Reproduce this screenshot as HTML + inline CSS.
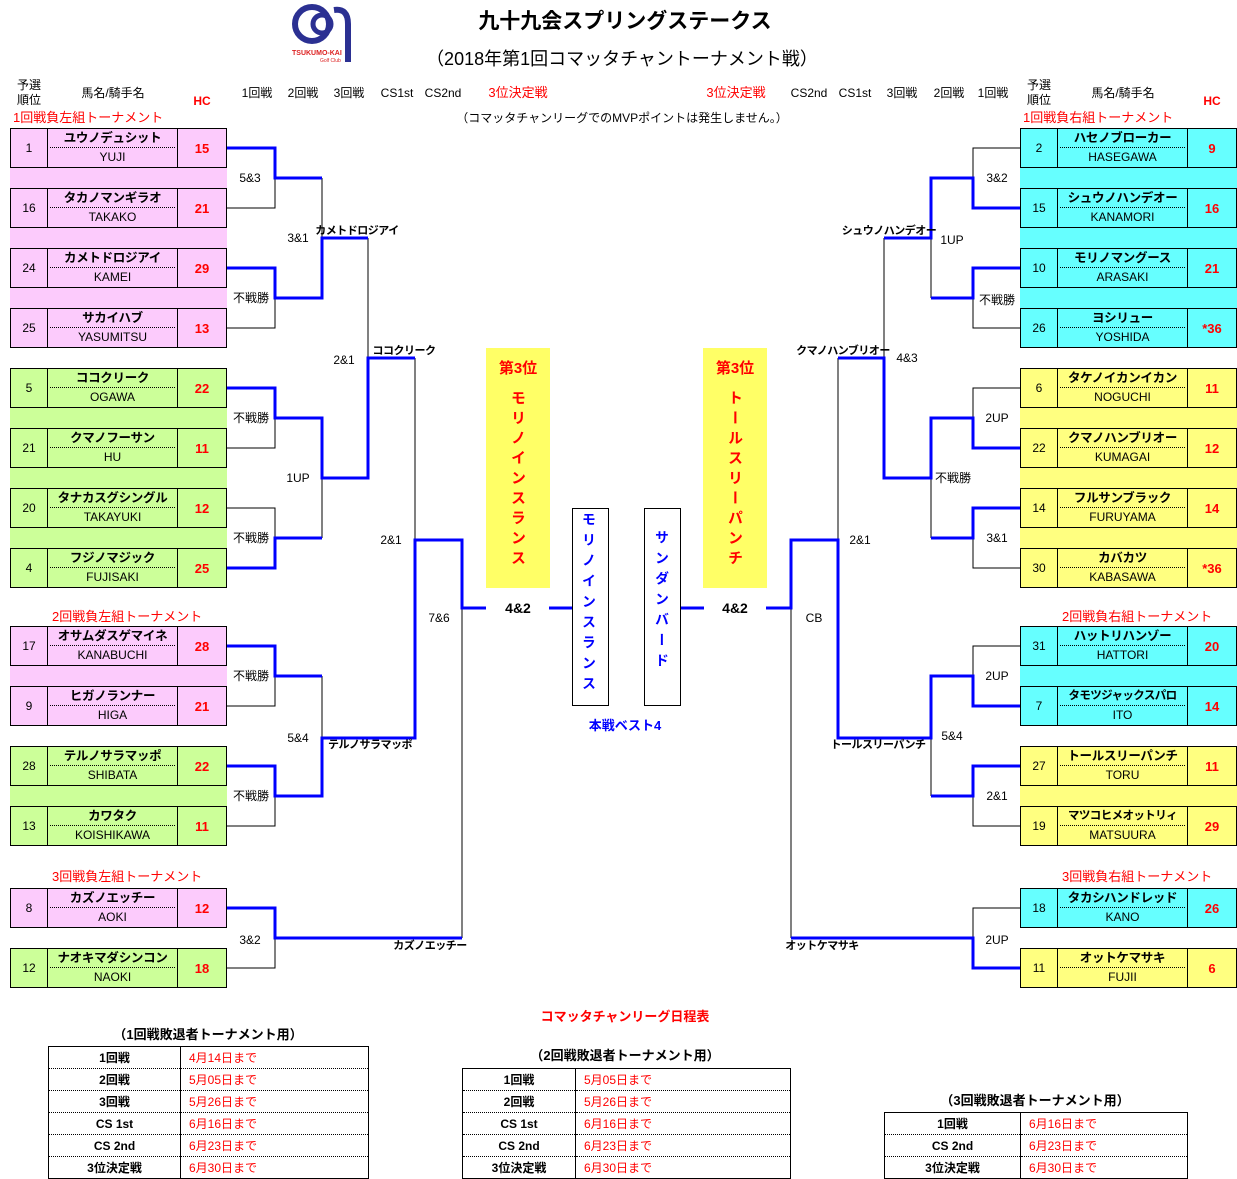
<!DOCTYPE html>
<html><head><meta charset="utf-8">
<style>
*{margin:0;padding:0;box-sizing:border-box}
body{width:1237px;height:1177px;position:relative;background:#fff;font-family:"Liberation Sans","Noto Sans CJK JP",sans-serif;color:#000;overflow:hidden}
.c{position:absolute;transform:translate(-50%,-50%);white-space:nowrap;font-size:12px;line-height:14px}
.l{position:absolute;white-space:nowrap;font-size:12px;line-height:14px;transform:translateY(-50%)}
.r{color:#f00}
.bd{font-weight:bold}
.nm{font-weight:bold;font-size:11px;letter-spacing:-0.5px}
.strip{position:absolute;width:217px}
.b{position:absolute;width:217px;height:40px;border:1px solid #000;display:flex}
.b i{font-style:normal;width:37px;border-right:1px solid #000;display:flex;align-items:center;justify-content:center;font-size:12px}
.b b{width:130px;border-right:1px solid #000;display:flex;flex-direction:column;font-weight:normal;overflow:hidden}
.b b span{height:19px;line-height:19px;text-align:center;font-weight:bold;font-size:12.5px;letter-spacing:-0.3px;margin:0 2px;border-bottom:1px dotted #000;white-space:nowrap;overflow:hidden}
.b b em{font-style:normal;height:19px;line-height:19px;text-align:center;font-size:12px;white-space:nowrap}
.b u{text-decoration:none;flex:1;display:flex;align-items:center;justify-content:center;color:#f00;font-weight:bold;font-size:13px}
.P{background:#fccbfc}.G{background:#ccff99}.C{background:#66ffff}.Y{background:#ffff80}
.vt{position:absolute;writing-mode:vertical-rl;font-weight:bold;font-size:15px;letter-spacing:5px;line-height:15px}
table{position:absolute;border-collapse:collapse;border:1px solid #000}
td{height:22px;font-size:12px;border-bottom:1px dotted #000;line-height:20px}
td:first-child{text-align:center;font-weight:bold;border-right:1px solid #000}
td:last-child{color:#f00;padding-left:8px}
</style></head><body>

<svg style="position:absolute;left:290px;top:0" width="66" height="66" viewBox="0 0 66 66">
<circle cx="22" cy="24" r="17" fill="none" stroke="#2b3092" stroke-width="6"/>
<circle cx="32" cy="24" r="9" fill="none" stroke="#2b3092" stroke-width="5"/>
<path d="M44 10 Q58 8 58 24 L58 62" fill="none" stroke="#2b3092" stroke-width="6"/>
<text x="2" y="55" font-size="7" fill="#d22" font-family="Liberation Sans" font-weight="bold">TSUKUMO-KAI</text>
<text x="30" y="62" font-size="5" fill="#d22" font-family="Liberation Sans">Golf Club</text>
</svg>

<div class="c bd" style="left:625px;top:22px;font-size:21px;line-height:24px">九十九会スプリングステークス</div>
<div class="c" style="left:622px;top:59px;font-size:18px;line-height:22px">（2018年第1回コマッタチャントーナメント戦）</div>

<div class="c" style="left:29px;top:93px;line-height:15px">予選<br>順位</div>
<div class="c" style="left:113px;top:93px">馬名/騎手名</div>
<div class="c r bd" style="left:202px;top:101px">HC</div>
<div class="c" style="left:257px;top:93px">1回戦</div>
<div class="c" style="left:303px;top:93px">2回戦</div>
<div class="c" style="left:349px;top:93px">3回戦</div>
<div class="c" style="left:397px;top:93px">CS1st</div>
<div class="c" style="left:443px;top:93px">CS2nd</div>
<div class="c r" style="left:518px;top:93px;font-size:13px">3位決定戦</div>
<div class="c r" style="left:736px;top:93px;font-size:13px">3位決定戦</div>
<div class="c" style="left:809px;top:93px">CS2nd</div>
<div class="c" style="left:855px;top:93px">CS1st</div>
<div class="c" style="left:902px;top:93px">3回戦</div>
<div class="c" style="left:949px;top:93px">2回戦</div>
<div class="c" style="left:993px;top:93px">1回戦</div>
<div class="c" style="left:1039px;top:93px;line-height:15px">予選<br>順位</div>
<div class="c" style="left:1123px;top:93px">馬名/騎手名</div>
<div class="c r bd" style="left:1212px;top:101px">HC</div>

<div class="l r" style="left:13px;top:118px;font-size:13px">1回戦負左組トーナメント</div>
<div class="c" style="left:622px;top:118px">（コマッタチャンリーグでのMVPポイントは発生しません。）</div>
<div class="l r" style="left:1023px;top:118px;font-size:13px">1回戦負右組トーナメント</div>
<div class="l r" style="left:52px;top:617px;font-size:13px">2回戦負左組トーナメント</div>
<div class="l r" style="left:1062px;top:617px;font-size:13px">2回戦負右組トーナメント</div>
<div class="l r" style="left:52px;top:877px;font-size:13px">3回戦負左組トーナメント</div>
<div class="l r" style="left:1062px;top:877px;font-size:13px">3回戦負右組トーナメント</div>

<div class="strip P" style="left:10px;top:128px;height:220px"></div>
<div class="strip G" style="left:10px;top:368px;height:220px"></div>
<div class="strip P" style="left:10px;top:626px;height:100px"></div>
<div class="strip G" style="left:10px;top:746px;height:100px"></div>
<div class="strip C" style="left:1020px;top:128px;height:220px"></div>
<div class="strip Y" style="left:1020px;top:368px;height:220px"></div>
<div class="strip C" style="left:1020px;top:626px;height:100px"></div>
<div class="strip Y" style="left:1020px;top:746px;height:100px"></div>

<div class="b P" style="left:10px;top:128px"><i>1</i><b><span>ユウノデュシット</span><em>YUJI</em></b><u>15</u></div>
<div class="b P" style="left:10px;top:188px"><i>16</i><b><span>タカノマンギラオ</span><em>TAKAKO</em></b><u>21</u></div>
<div class="b P" style="left:10px;top:248px"><i>24</i><b><span>カメトドロジアイ</span><em>KAMEI</em></b><u>29</u></div>
<div class="b P" style="left:10px;top:308px"><i>25</i><b><span>サカイハブ</span><em>YASUMITSU</em></b><u>13</u></div>
<div class="b G" style="left:10px;top:368px"><i>5</i><b><span>ココクリーク</span><em>OGAWA</em></b><u>22</u></div>
<div class="b G" style="left:10px;top:428px"><i>21</i><b><span>クマノフーサン</span><em>HU</em></b><u>11</u></div>
<div class="b G" style="left:10px;top:488px"><i>20</i><b><span>タナカスグシングル</span><em>TAKAYUKI</em></b><u>12</u></div>
<div class="b G" style="left:10px;top:548px"><i>4</i><b><span>フジノマジック</span><em>FUJISAKI</em></b><u>25</u></div>
<div class="b P" style="left:10px;top:626px"><i>17</i><b><span>オサムダスゲマイネ</span><em>KANABUCHI</em></b><u>28</u></div>
<div class="b P" style="left:10px;top:686px"><i>9</i><b><span>ヒガノランナー</span><em>HIGA</em></b><u>21</u></div>
<div class="b G" style="left:10px;top:746px"><i>28</i><b><span>テルノサラマッポ</span><em>SHIBATA</em></b><u>22</u></div>
<div class="b G" style="left:10px;top:806px"><i>13</i><b><span>カワタク</span><em>KOISHIKAWA</em></b><u>11</u></div>
<div class="b P" style="left:10px;top:888px"><i>8</i><b><span>カズノエッチー</span><em>AOKI</em></b><u>12</u></div>
<div class="b G" style="left:10px;top:948px"><i>12</i><b><span>ナオキマダシンコン</span><em>NAOKI</em></b><u>18</u></div>

<div class="b C" style="left:1020px;top:128px"><i>2</i><b><span>ハセノブローカー</span><em>HASEGAWA</em></b><u>9</u></div>
<div class="b C" style="left:1020px;top:188px"><i>15</i><b><span>シュウノハンデオー</span><em>KANAMORI</em></b><u>16</u></div>
<div class="b C" style="left:1020px;top:248px"><i>10</i><b><span>モリノマングース</span><em>ARASAKI</em></b><u>21</u></div>
<div class="b C" style="left:1020px;top:308px"><i>26</i><b><span>ヨシリュー</span><em>YOSHIDA</em></b><u>*36</u></div>
<div class="b Y" style="left:1020px;top:368px"><i>6</i><b><span>タケノイカンイカン</span><em>NOGUCHI</em></b><u>11</u></div>
<div class="b Y" style="left:1020px;top:428px"><i>22</i><b><span>クマノハンブリオー</span><em>KUMAGAI</em></b><u>12</u></div>
<div class="b Y" style="left:1020px;top:488px"><i>14</i><b><span>フルサンブラック</span><em>FURUYAMA</em></b><u>14</u></div>
<div class="b Y" style="left:1020px;top:548px"><i>30</i><b><span>カバカツ</span><em>KABASAWA</em></b><u>*36</u></div>
<div class="b C" style="left:1020px;top:626px"><i>31</i><b><span>ハットリハンゾー</span><em>HATTORI</em></b><u>20</u></div>
<div class="b C" style="left:1020px;top:686px"><i>7</i><b><span style="font-size:11.5px;letter-spacing:-0.6px">タモツジャックスパロ</span><em>ITO</em></b><u>14</u></div>
<div class="b Y" style="left:1020px;top:746px"><i>27</i><b><span>トールスリーパンチ</span><em>TORU</em></b><u>11</u></div>
<div class="b Y" style="left:1020px;top:806px"><i>19</i><b><span style="font-size:11.5px;letter-spacing:-0.6px">マツコヒメオットリィ</span><em>MATSUURA</em></b><u>29</u></div>
<div class="b C" style="left:1020px;top:888px"><i>18</i><b><span>タカシハンドレッド</span><em>KANO</em></b><u>26</u></div>
<div class="b Y" style="left:1020px;top:948px"><i>11</i><b><span>オットケマサキ</span><em>FUJII</em></b><u>6</u></div>

<div style="position:absolute;left:486px;top:348px;width:64px;height:240px;background:#ffff66"></div>
<div style="position:absolute;left:703px;top:348px;width:64px;height:240px;background:#ffff66"></div>
<div class="c r bd" style="left:518px;top:369px;font-size:15px">第3位</div>
<div class="c r bd" style="left:735px;top:369px;font-size:15px">第3位</div>
<div class="vt r" style="left:510px;top:390px">モリノインスランス</div>
<div class="vt r" style="left:727px;top:390px">トールスリーパンチ</div>
<div style="position:absolute;left:572px;top:508px;width:37px;height:198px;border:1px solid #000"></div>
<div style="position:absolute;left:644px;top:508px;width:37px;height:198px;border:1px solid #000"></div>
<div class="vt" style="left:582px;top:512px;color:#00f;font-size:14px;letter-spacing:6.5px;line-height:14px">モリノインスランス</div>
<div class="vt" style="left:655px;top:530px;color:#00f;font-size:14px;letter-spacing:6.5px;line-height:14px">サンダンバード</div>
<div class="c bd" style="left:518px;top:608px;font-size:14px">4&amp;2</div>
<div class="c bd" style="left:735px;top:608px;font-size:14px">4&amp;2</div>
<div class="c bd" style="left:625px;top:726px;color:#00f;font-size:13px">本戦ベスト4</div>

<svg style="position:absolute;left:0;top:0" width="1237" height="1177">
<g fill="none" stroke="#000" stroke-width="1">
<path d="M227 148H275V208H227M227 268H275V328H227M227 388H275V448H227M227 508H275V568H227M227 646H275V706H227M227 766H275V826H227M227 908H275V968H227"/>
<path d="M322 178V298M322 418V538M322 676V796M368 238V478M415 358V738M462 540V938"/>
<path d="M1020 148H973V208H1020M1020 268H973V328H1020M1020 388H973V448H1020M1020 508H973V568H1020M1020 646H973V706H1020M1020 766H973V826H1020M1020 908H973V968H1020"/>
<path d="M931 178V298M931 418V538M931 676V796M884 238V478M838 358V738M791 540V938"/>
</g>
<g fill="none" stroke="#0000ff" stroke-width="3">
<path d="M227 148H275V178H322"/>
<path d="M227 268H275V298H322V238H368"/>
<path d="M227 388H275V418H322V478H368V358H415"/>
<path d="M227 568H275V538H322"/>
<path d="M227 646H275V676H322"/>
<path d="M227 766H275V796H322V738H415V540H462V608H486"/>
<path d="M227 908H275V938H462"/>
<path d="M549 608H572M681 608H704"/>
<path d="M1020 208H973V178H931V238H884"/>
<path d="M1020 268H973V298H931"/>
<path d="M1020 448H973V418H931V478H884V358H838"/>
<path d="M1020 508H973V538H931"/>
<path d="M1020 706H973V676H931V738H838V540H791V608H766"/>
<path d="M1020 766H973V796H931"/>
<path d="M1020 968H973V938H791"/>
</g>
</svg>

<div class="c" style="left:250px;top:178px">5&amp;3</div>
<div class="c" style="left:298px;top:238px">3&amp;1</div>
<div class="c" style="left:251px;top:298px">不戦勝</div>
<div class="c" style="left:344px;top:360px">2&amp;1</div>
<div class="c" style="left:251px;top:418px">不戦勝</div>
<div class="c" style="left:298px;top:478px">1UP</div>
<div class="c" style="left:251px;top:538px">不戦勝</div>
<div class="c" style="left:391px;top:540px">2&amp;1</div>
<div class="c" style="left:439px;top:618px">7&amp;6</div>
<div class="c" style="left:251px;top:676px">不戦勝</div>
<div class="c" style="left:298px;top:738px">5&amp;4</div>
<div class="c" style="left:251px;top:796px">不戦勝</div>
<div class="c" style="left:250px;top:940px">3&amp;2</div>
<div class="c nm" style="left:357px;top:231px">カメトドロジアイ</div>
<div class="c nm" style="left:404px;top:351px">ココクリーク</div>
<div class="c nm" style="left:370px;top:745px">テルノサラマッポ</div>
<div class="c nm" style="left:430px;top:946px">カズノエッチー</div>
<div class="c" style="left:997px;top:178px">3&amp;2</div>
<div class="c" style="left:952px;top:240px">1UP</div>
<div class="c" style="left:997px;top:300px">不戦勝</div>
<div class="c" style="left:907px;top:358px">4&amp;3</div>
<div class="c" style="left:997px;top:418px">2UP</div>
<div class="c" style="left:953px;top:478px">不戦勝</div>
<div class="c" style="left:997px;top:538px">3&amp;1</div>
<div class="c" style="left:860px;top:540px">2&amp;1</div>
<div class="c" style="left:814px;top:618px">CB</div>
<div class="c" style="left:997px;top:676px">2UP</div>
<div class="c" style="left:952px;top:736px">5&amp;4</div>
<div class="c" style="left:997px;top:796px">2&amp;1</div>
<div class="c" style="left:997px;top:940px">2UP</div>
<div class="c nm" style="left:889px;top:231px">シュウノハンデオー</div>
<div class="c nm" style="left:843px;top:351px">クマノハンブリオー</div>
<div class="c nm" style="left:878px;top:745px">トールスリーパンチ</div>
<div class="c nm" style="left:822px;top:946px">オットケマサキ</div>

<div class="c r bd" style="left:625px;top:1017px;font-size:13px">コマッタチャンリーグ日程表</div>
<div class="c bd" style="left:208px;top:1035px;font-size:13px">（1回戦敗退者トーナメント用）</div>
<table style="left:48px;top:1046px;width:321px">
<tr><td style="width:132px">1回戦</td><td>4月14日まで</td></tr>
<tr><td>2回戦</td><td>5月05日まで</td></tr>
<tr><td>3回戦</td><td>5月26日まで</td></tr>
<tr><td>CS 1st</td><td>6月16日まで</td></tr>
<tr><td>CS 2nd</td><td>6月23日まで</td></tr>
<tr><td>3位決定戦</td><td>6月30日まで</td></tr>
</table>
<div class="c bd" style="left:625px;top:1056px;font-size:13px">（2回戦敗退者トーナメント用）</div>
<table style="left:462px;top:1068px;width:329px">
<tr><td style="width:113px">1回戦</td><td>5月05日まで</td></tr>
<tr><td>2回戦</td><td>5月26日まで</td></tr>
<tr><td>CS 1st</td><td>6月16日まで</td></tr>
<tr><td>CS 2nd</td><td>6月23日まで</td></tr>
<tr><td>3位決定戦</td><td>6月30日まで</td></tr>
</table>
<div class="c bd" style="left:1035px;top:1101px;font-size:13px">（3回戦敗退者トーナメント用）</div>
<table style="left:884px;top:1112px;width:304px">
<tr><td style="width:136px">1回戦</td><td>6月16日まで</td></tr>
<tr><td>CS 2nd</td><td>6月23日まで</td></tr>
<tr><td>3位決定戦</td><td>6月30日まで</td></tr>
</table>
</body></html>
